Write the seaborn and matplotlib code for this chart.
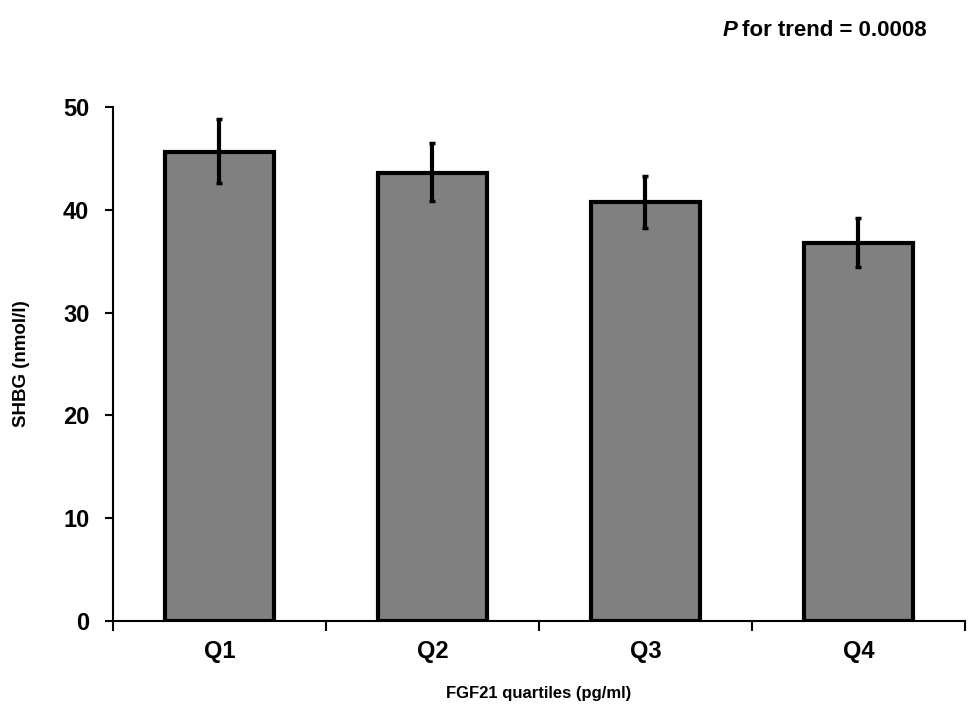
import numpy as np
import pandas as pd
import matplotlib
matplotlib.use("Agg")
import matplotlib.pyplot as plt
import seaborn as sns

# values
quartiles = ["Q1", "Q2", "Q3", "Q4"]
shbg_mean = [45.6, 43.6, 40.8, 36.8]
err_low = [42.6, 40.9, 38.2, 34.4]
err_high = [48.8, 46.5, 43.3, 39.2]
y_ticks = [0, 10, 20, 30, 40, 50]

df = pd.DataFrame({"quartile": quartiles, "shbg": shbg_mean})

sns.set_style("white")
plt.rcParams["font.family"] = ["Liberation Sans", "DejaVu Sans"]
plt.rcParams["font.weight"] = "bold"
plt.rcParams["text.color"] = "black"
plt.rcParams["axes.labelcolor"] = "black"
plt.rcParams["xtick.color"] = "black"
plt.rcParams["ytick.color"] = "black"

fig = plt.figure(figsize=(9.68, 7.15), dpi=100)
ax = fig.add_axes([0.1167, 0.1315, 0.880, 0.7189])

sns.barplot(data=df, x="quartile", y="shbg", color="#808080", width=0.51,
            edgecolor="black", linewidth=3, saturation=1, errorbar=None, ax=ax)

yerr = np.array([np.array(shbg_mean) - np.array(err_low),
                 np.array(err_high) - np.array(shbg_mean)])
ax.errorbar(np.arange(len(quartiles)), shbg_mean, yerr=yerr, fmt="none",
            ecolor="black", elinewidth=3, capsize=2.5, capthick=2.5)

ax.set_xlim(-0.5, 3.5)
ax.set_ylim(0, 50)
ax.set_yticks(y_ticks)
ax.set_yticklabels([str(t) for t in y_ticks], fontsize=17, fontweight="bold")

# category labels centered, tick marks on the boundaries
ax.set_xticks(np.arange(len(quartiles)))
ax.set_xticklabels(quartiles, fontsize=17, fontweight="bold")
ax.tick_params(axis="x", which="major", length=0, pad=14)
ax.set_xticks(np.arange(-0.5, 4.0, 1.0), minor=True)
ax.tick_params(axis="x", which="minor", bottom=True, direction="out", length=7, width=1.5, color="black")
ax.tick_params(axis="y", direction="out", length=6, width=1.5, color="black", pad=11, left=True)

for s in ["top", "right"]:
    ax.spines[s].set_visible(False)
for s in ["left", "bottom"]:
    ax.spines[s].set_linewidth(1.5)
    ax.spines[s].set_color("black")

ax.set_xlabel("FGF21 quartiles (pg/ml)", fontsize=12, fontweight="bold", labelpad=16)
ax.set_ylabel("SHBG (nmol/l)", fontsize=13.5, fontweight="bold", labelpad=24)

fig.text(0.746, 0.958, "P", fontsize=16, fontweight="bold", fontstyle="italic", ha="left", va="center")
fig.text(0.767, 0.958, "for trend = 0.0008", fontsize=16, fontweight="bold", ha="left", va="center")

fig.savefig("out.png", dpi=100)
